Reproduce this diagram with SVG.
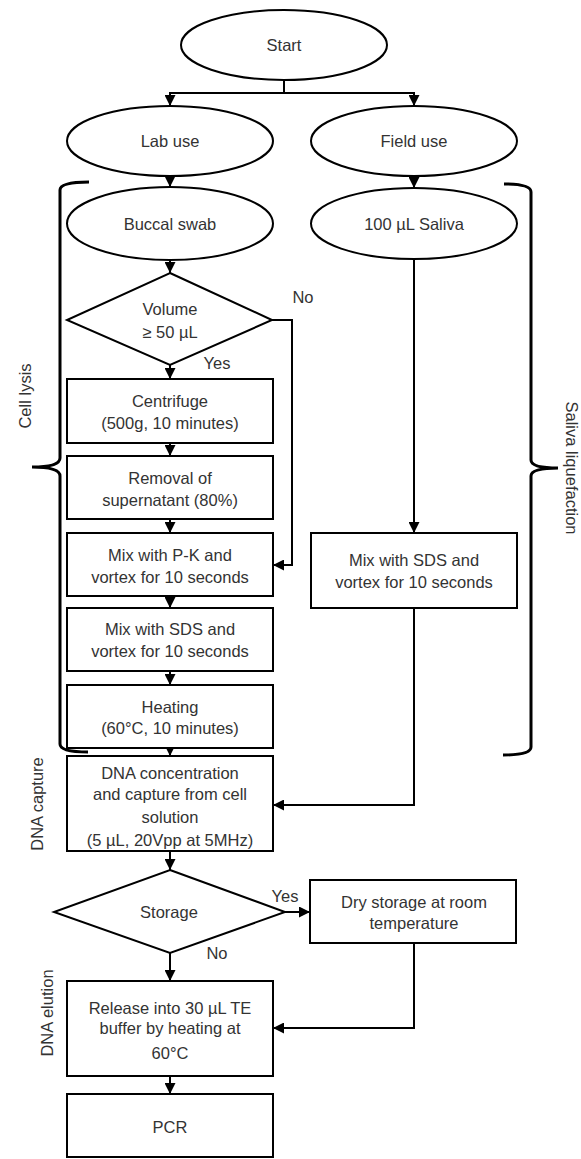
<svg xmlns="http://www.w3.org/2000/svg" width="581" height="1159" viewBox="0 0 581 1159">
<style>
.n{fill:#fff;stroke:#000;stroke-width:2}
.t{font-family:"Liberation Sans",Arial,sans-serif;font-size:16.5px;fill:#333;text-anchor:middle}
.c{fill:none;stroke:#000;stroke-width:2}
.b{fill:none;stroke:#000;stroke-width:3}
</style>
<defs>
<marker id="a" markerUnits="userSpaceOnUse" markerWidth="11" markerHeight="11" refX="11" refY="5.5" orient="auto"><path d="M0,0 L11,5.5 L0,11 z" fill="#000"/></marker>
</defs>
<g id="connectors">
<path class="c" d="M284,80 V93 H170 V106" marker-end="url(#a)"/>
<path class="c" d="M284,93 H414 V106" marker-end="url(#a)"/>
<path class="c" d="M170,176 V187" marker-end="url(#a)"/>
<path class="c" d="M414,176 V188" marker-end="url(#a)"/>
<path class="c" d="M170,260 V273" marker-end="url(#a)"/>
<path class="c" d="M170,365 V379" marker-end="url(#a)"/>
<path class="c" d="M170,443 V456" marker-end="url(#a)"/>
<path class="c" d="M170,519 V533" marker-end="url(#a)"/>
<path class="c" d="M170,596 V608" marker-end="url(#a)"/>
<path class="c" d="M170,671 V685" marker-end="url(#a)"/>
<path class="c" d="M170,748 V756" marker-end="url(#a)"/>
<path class="c" d="M272,320 H292 V565 H273" marker-end="url(#a)"/>
<path class="c" d="M414,259 V533" marker-end="url(#a)"/>
<path class="c" d="M414,608 V805 H273" marker-end="url(#a)"/>
<path class="c" d="M170,851 V870" marker-end="url(#a)"/>
<path class="c" d="M285,912 H310" marker-end="url(#a)"/>
<path class="c" d="M170,953 V981" marker-end="url(#a)"/>
<path class="c" d="M414,943 V1028 H273" marker-end="url(#a)"/>
<path class="c" d="M170,1076 V1094" marker-end="url(#a)"/>
</g>
<g id="start"><ellipse class="n" cx="284" cy="45" rx="103" ry="35"/><text class="t" x="284" y="51">Start</text></g>
<g id="lab"><ellipse class="n" cx="170" cy="141" rx="103" ry="35"/><text class="t" x="170" y="147">Lab use</text></g>
<g id="field"><ellipse class="n" cx="414" cy="141" rx="103" ry="35"/><text class="t" x="414" y="147">Field use</text></g>
<g id="buccal"><ellipse class="n" cx="170" cy="223.5" rx="103" ry="36.5"/><text class="t" x="170" y="230">Buccal swab</text></g>
<g id="saliva"><ellipse class="n" cx="414" cy="223.5" rx="103" ry="35.5"/><text class="t" x="414" y="230">100 µL Saliva</text></g>
<g id="volume"><polygon class="n" points="170,273 272,320 170,365 67,320"/><text class="t" x="170" y="315">Volume</text><text class="t" x="170" y="338">≥ 50 µL</text></g>
<g id="lbl-no1"><text class="t" x="303" y="303">No</text></g>
<g id="lbl-yes1"><text class="t" x="217" y="369">Yes</text></g>
<g id="centrifuge"><rect class="n" x="67" y="379" width="206" height="64"/><text class="t" x="170" y="407">Centrifuge</text><text class="t" x="170" y="429">(500g, 10 minutes)</text></g>
<g id="removal"><rect class="n" x="67" y="456" width="206" height="63"/><text class="t" x="170" y="484">Removal of</text><text class="t" x="170" y="506">supernatant (80%)</text></g>
<g id="pk"><rect class="n" x="67" y="533" width="206" height="63"/><text class="t" x="170" y="561">Mix with P-K and</text><text class="t" x="170" y="583">vortex for 10 seconds</text></g>
<g id="sds1"><rect class="n" x="67" y="608" width="206" height="63"/><text class="t" x="170" y="635">Mix with SDS and</text><text class="t" x="170" y="657">vortex for 10 seconds</text></g>
<g id="heating"><rect class="n" x="67" y="685" width="206" height="63"/><text class="t" x="170" y="713">Heating</text><text class="t" x="170" y="734">(60°C, 10 minutes)</text></g>
<g id="sds2"><rect class="n" x="311" y="533" width="206" height="75"/><text class="t" x="414" y="566">Mix with SDS and</text><text class="t" x="414" y="588">vortex for 10 seconds</text></g>
<g id="capture"><rect class="n" x="67" y="756" width="206" height="95"/><text class="t" x="170" y="779">DNA concentration</text><text class="t" x="170" y="800">and capture from cell</text><text class="t" x="170" y="823">solution</text><text class="t" x="170" y="846">(5 µL, 20Vpp at 5MHz)</text></g>
<g id="storage"><polygon class="n" points="170,870 285,912 170,953 54,912"/><text class="t" x="169" y="918">Storage</text></g>
<g id="lbl-yes2"><text class="t" x="285" y="902">Yes</text></g>
<g id="lbl-no2"><text class="t" x="217" y="959">No</text></g>
<g id="dry"><rect class="n" x="310" y="880" width="206" height="63"/><text class="t" x="414" y="908">Dry storage at room</text><text class="t" x="414" y="929">temperature</text></g>
<g id="release"><rect class="n" x="67" y="981" width="206" height="95"/><text class="t" x="170" y="1014">Release into 30 µL TE</text><text class="t" x="170" y="1034">buffer by heating at</text><text class="t" x="170" y="1059">60°C</text></g>
<g id="pcr"><rect class="n" x="67" y="1094" width="206" height="63"/><text class="t" x="170" y="1133">PCR</text></g>
<g id="bracket-cell-lysis">
<path class="b" d="M89,182 Q60,182 60,190 V458 Q60,467 32,467 Q60,467 60,476 V744 Q60,752 88,752"/>
<text class="t" transform="translate(31,396) rotate(-90)">Cell lysis</text>
</g>
<g id="bracket-saliva">
<path class="b" d="M504,184 Q531,184 531,192 V460 Q531,468 558,468 Q531,468 531,476 V747 Q531,755 503,755"/>
<text class="t" transform="translate(566,468) rotate(90)">Saliva liquefaction</text>
</g>
<g id="lbl-capture"><text class="t" transform="translate(43,804) rotate(-90)">DNA capture</text></g>
<g id="lbl-elution"><text class="t" transform="translate(53,1013) rotate(-90)">DNA elution</text></g>
</svg>
